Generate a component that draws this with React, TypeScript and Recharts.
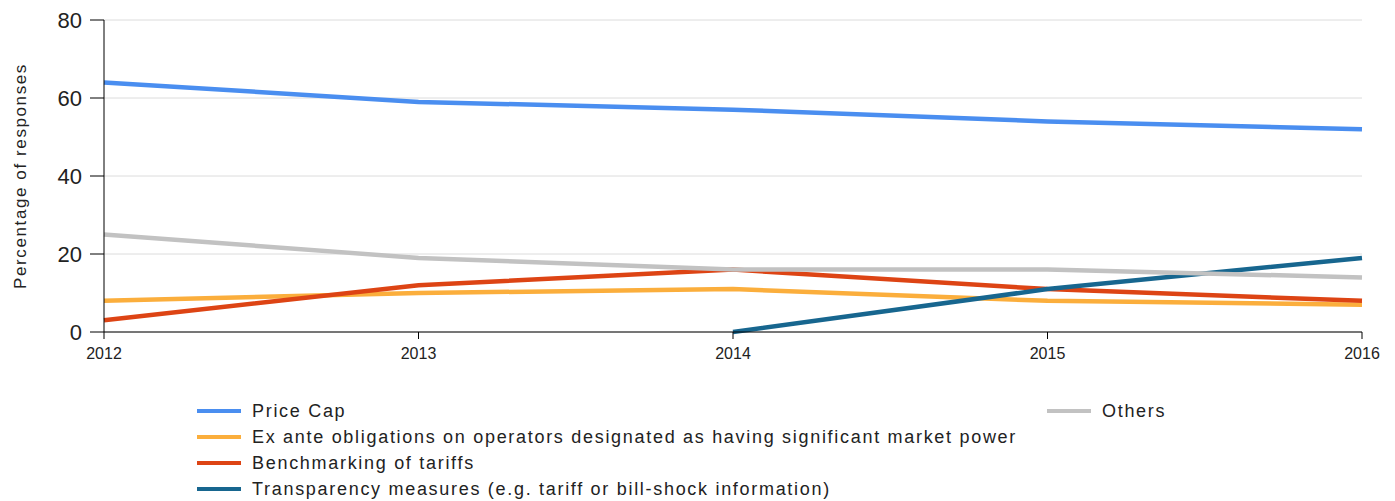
import React from 'react';
import { LineChart, Line, XAxis, YAxis, CartesianGrid } from 'recharts';

const years = ['2012', '2013', '2014', '2015', '2016'];
const priceCap = [64, 59, 57, 54, 52];
const exAnte = [8, 10, 11, 8, 7];
const benchmarking = [3, 12, 16, 11, 8];
const transparency = [null, null, 0, 11, 19];
const others = [25, 19, 16, 16, 14];
const yTicks = [0, 20, 40, 60, 80];

const series = [
  { key: 'priceCap', name: 'Price Cap', color: '#4a8ef0', values: priceCap },
  { key: 'exAnte', name: 'Ex ante obligations on operators designated as having significant market power', color: '#fbae3c', values: exAnte },
  { key: 'benchmarking', name: 'Benchmarking of tariffs', color: '#dd4414', values: benchmarking },
  { key: 'transparency', name: 'Transparency measures (e.g. tariff or bill-shock information)', color: '#17668f', values: transparency },
  { key: 'others', name: 'Others', color: '#c2c2c2', values: others },
];

const data = years.map((year, i) => {
  const row: Record<string, string | number | null> = { year };
  series.forEach(s => { row[s.key] = s.values[i]; });
  return row;
});

const font = 'Arial, "Liberation Sans", sans-serif';

function LegendItem({ name, color, left, top }: { name: string; color: string; left: number; top: number }) {
  return (
    <div style={{ position: 'absolute', left, top, display: 'flex', alignItems: 'center', height: 26 }}>
      <div style={{ width: 44, height: 4, background: color, marginRight: 11 }} />
      <span style={{ fontFamily: font, fontSize: 18, letterSpacing: 1.7, color: '#222', whiteSpace: 'nowrap' }}>{name}</span>
    </div>
  );
}

export default function App() {
  const leftCol = series.filter(s => s.key !== 'others');
  const rightCol = series.filter(s => s.key === 'others');
  return (
    <div style={{ position: 'absolute', left: 0, top: 0, width: 1395, height: 501, background: '#fff' }}>
      <LineChart width={1395} height={501} data={data} margin={{ top: 20, right: 33, left: 0, bottom: 139 }}>
        <CartesianGrid horizontal vertical={false} stroke="#dcdcdc" />
        <XAxis
          dataKey="year"
          height={30}
          axisLine={{ stroke: '#000' }}
          tickLine={{ stroke: '#000' }}
          tickSize={7}
          tickMargin={9}
          tick={{ fontSize: 16, fill: '#222', fontFamily: font }}
          interval={0}
        />
        <YAxis
          width={104}
          domain={[0, 80]}
          ticks={yTicks}
          axisLine={{ stroke: '#000' }}
          tickLine={{ stroke: '#000' }}
          tickSize={14}
          tickMargin={8}
          tick={{ fontSize: 22, fill: '#222', fontFamily: font }}
          label={{ value: 'Percentage of responses', angle: -90, position: 'insideLeft', offset: 20, style: { fontSize: 17, letterSpacing: 1.6, fill: '#222', fontFamily: font, textAnchor: 'middle' } }}
        />
        {series.map(s => (
          <Line
            key={s.key}
            dataKey={s.key}
            name={s.name}
            stroke={s.color}
            strokeWidth={4.5}
            dot={false}
            type="linear"
            isAnimationActive={false}
          />
        ))}
      </LineChart>
      {leftCol.map((s, i) => (
        <LegendItem key={s.key} name={s.name} color={s.color} left={197} top={398 + i * 26} />
      ))}
      {rightCol.map((s, i) => (
        <LegendItem key={s.key} name={s.name} color={s.color} left={1047} top={398 + i * 26} />
      ))}
    </div>
  );
}
